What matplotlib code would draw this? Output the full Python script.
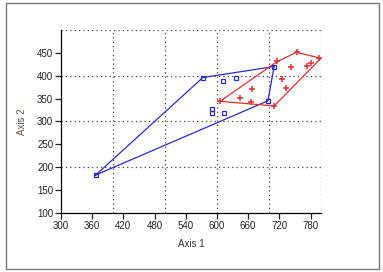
import matplotlib
matplotlib.use("Agg")
import matplotlib.pyplot as plt
from matplotlib.patches import Rectangle

# group 1 (blue squares)
blue_x = [367, 573, 612, 637, 710, 698, 590, 590, 613]
blue_y = [183, 396, 389, 396, 420, 345, 327, 318, 318]
blue_hull_x = [367, 573, 710, 698, 367]
blue_hull_y = [183, 396, 420, 345, 183]

# group 2 (red crosses)
red_x = [606, 645, 666, 668, 710, 716, 753, 742, 726, 732, 774, 780, 797]
red_y = [344, 352, 343, 370, 334, 431, 451, 420, 393, 373, 421, 427, 438]
red_hull_x = [606, 716, 753, 800, 710, 606]
red_hull_y = [344, 431, 451, 438, 334, 344]

xticks = list(range(300, 781, 60))
yticks = list(range(100, 451, 50))
xgrid = [400, 500, 600, 700, 800]
ygrid = [200, 300, 400, 500]

plt.rcParams['font.family'] = ['Liberation Sans', 'DejaVu Sans']

fig = plt.figure(figsize=(3.83, 2.72), dpi=100)
ax = fig.add_axes([0.159, 0.217, 0.679, 0.673])

# dotted grid every 100
for gx in xgrid:
    ax.axvline(gx, linestyle=(0, (1, 2.5)), color='#444444', lw=0.9, zorder=0)
for gy in ygrid:
    ax.axhline(gy, linestyle=(0, (1, 2.5)), color='#444444', lw=0.9, zorder=0)

ax.plot(blue_hull_x, blue_hull_y, color='#2a2ad0', lw=0.9)
ax.plot(red_hull_x, red_hull_y, color='#e03030', lw=0.9)
ax.plot(blue_x, blue_y, 's', mfc='none', mec='#2a2ad0', ms=3.5, mew=0.9, ls='none')
ax.plot(red_x, red_y, '+', color='#e03030', ms=5, mew=1.1, ls='none', clip_on=False)

ax.set_xlim(300, 800)
ax.set_ylim(100, 500)
ax.set_xticks(xticks)
ax.set_yticks(yticks)
ax.tick_params(length=4, width=0.9, labelsize=7, pad=1.5, colors='#222222')

for s in ['top', 'right']:
    ax.spines[s].set_visible(False)
ax.spines['left'].set_linewidth(0.9)
ax.spines['bottom'].set_linewidth(0.9)

ax.set_xlabel("Axis 1", fontsize=7, color='#333333', labelpad=6)
ax.set_ylabel("Axis 2", fontsize=7, color='#6a5040', labelpad=7)

fig.patches.append(Rectangle((0.016, 0.011), 0.974, 0.978, transform=fig.transFigure,
                             fill=False, edgecolor='#777777', lw=1.0))

fig.savefig("out.png", dpi=100)
